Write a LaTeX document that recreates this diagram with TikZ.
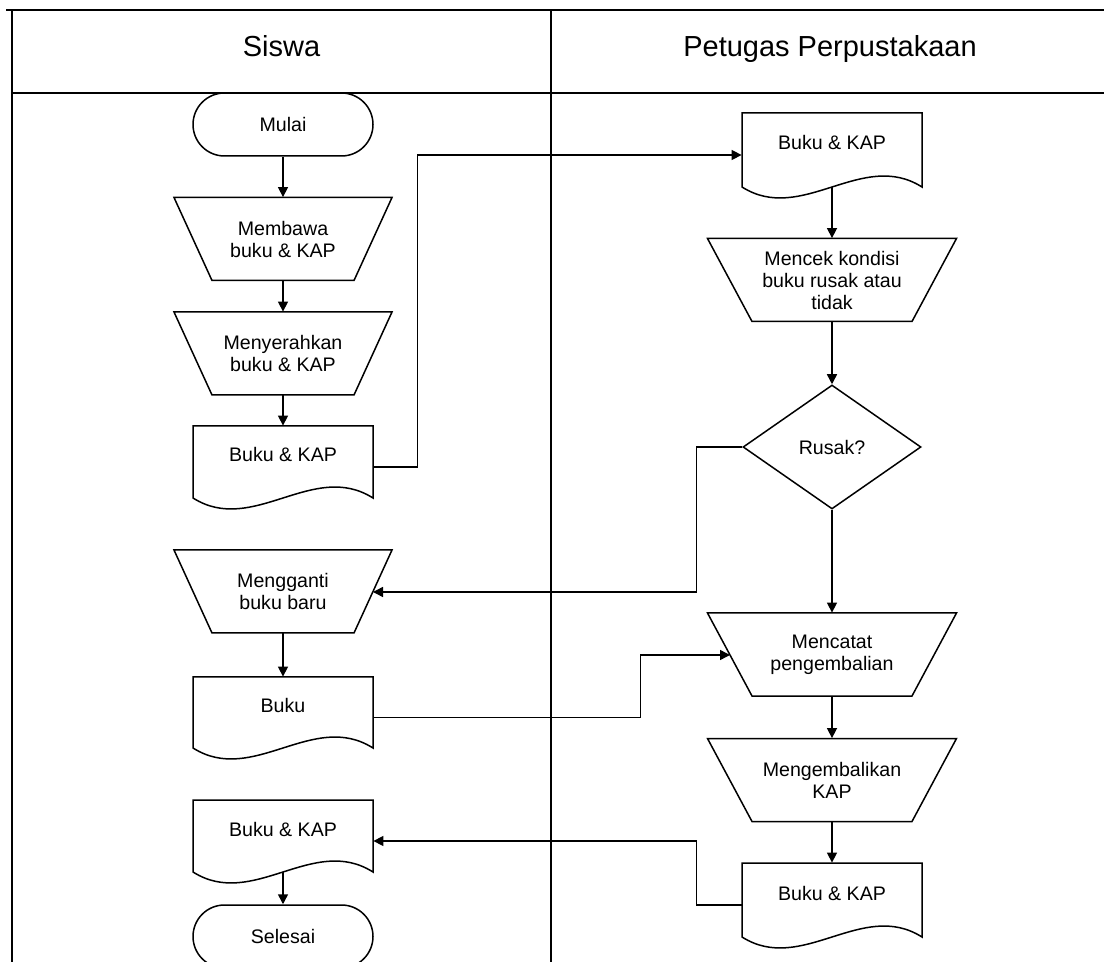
\documentclass[tikz,border=0pt]{standalone}
\usepackage{fontspec}
\setmainfont{Liberation Sans}
\usetikzlibrary{arrows.meta,shapes.geometric,calc}
\tikzset{
 shp/.style={draw=black, line width=0.75pt},
 lbl/.style={inner sep=0pt, align=center, font=\fontsize{9.8}{11}\selectfont},
 term/.style={shp, lbl, rounded corners=15.75pt, minimum width=90pt, minimum height=31.5pt},
 frame/.style={draw=black, line width=1.1pt},
 arr/.style={draw=black, line width=0.75pt, -{Triangle[length=5pt,width=5pt]}},
 head/.style={font=\fontsize{14.5}{17}\selectfont, anchor=base, inner sep=0pt},
}
\newcommand{\manopshape}[6]{%
 \draw[shp] (#2-#4,#3-41.5) -- (#2+#4,#3-41.5) -- (#2+#5,#3+41.5) -- (#2-#5,#3+41.5) -- cycle;
 \node[lbl, minimum width=#4pt, minimum height=41.5pt] (#1) at (#2,#3) {#6};}
\newcommand{\docshape}[6]{%
 \draw[shp] (#2,#4) -- (#3,#4) -- (#3,#5) .. controls ({#2+2*(#3-#2)/3},{#5-38}) and ({#2+(#3-#2)/3},{#5+38}) .. (#2,#5) -- cycle;
 \node[lbl, text height=7pt, text depth=7pt, minimum width={(#3-#2)*0.5pt}, minimum height={(#5-#4)*0.5pt}] (#1) at ({(#2+#3)/2},{(#4+#5)/2}) {#6};}
\begin{document}
\begin{tikzpicture}[x=0.5pt,y=-0.5pt]
\useasboundingbox (0,0) rectangle (1104,962);
\fill[white] (0,0) rectangle (1104,962);
% frame
\draw[frame] (6,10) -- (1104,10);
\draw[frame] (12,10) -- (12,962);
\draw[frame] (12,93) -- (1104,93);
\draw[frame] (551,10) -- (551,962);
\node[head] (siswa) at (281.5,57) {Siswa};
\node[head] (petugas) at (830,57) {Petugas Perpustakaan};
% left lane
\node[term] (mulai) at (283,124.5) {Mulai};
\manopshape{membawa}{283}{239}{109}{71}{Membawa\\buku \& KAP}
\manopshape{menyerahkan}{283}{353.5}{109}{71}{Menyerahkan\\buku \& KAP}
\docshape{docA}{193}{373}{426}{498}{Buku \& KAP}
\manopshape{mengganti}{283}{591.5}{109}{71}{Mengganti\\buku baru}
\docshape{docB}{193}{373}{677}{748}{Buku}
\docshape{docC}{193}{373}{800}{872}{Buku \& KAP}
\node[term] (selesai) at (283,936.5) {Selesai};
% right lane
\docshape{docD}{742}{922}{113}{187}{Buku \& KAP}
\manopshape{mencek}{832}{280}{124.5}{80}{Mencek kondisi\\buku rusak atau\\tidak}
\node[shp, lbl, diamond, minimum width=89pt, minimum height=62pt] (rusak) at (832,447) {Rusak?};
\manopshape{mencatat}{832}{654.5}{124.5}{80}{Mencatat\\pengembalian}
\manopshape{mengembalikan}{832}{780}{124.5}{80}{Mengembalikan\\KAP}
\docshape{docE}{742}{922}{863}{937}{Buku \& KAP}
% connectors
\coordinate (mgin) at (373,592);
\coordinate (mcin) at (730,655);
\draw[arr] (mulai.south) -- (membawa.north);
\draw[arr] (membawa.south) -- (menyerahkan.north);
\draw[arr] (menyerahkan.south) -- (docA.north);
\draw[arr] ([yshift=-2.5pt]docA.east) -- ++(44,0) |- ([yshift=-2.5pt]docD.west);
\draw[arr] (docD.south) -- (mencek.north);
\draw[arr] (mencek.south) -- (rusak.north);
\draw[arr] (rusak.west) -- ++(-46,0) |- (mgin);
\draw[arr] (rusak.south) -- (mencatat.north);
\draw[arr] (mengganti.south) -- (docB.north);
\draw[arr] ([yshift=-2.5pt]docB.east) -- ++(267,0) |- (mcin);
\draw[arr] (mencatat.south) -- (mengembalikan.north);
\draw[arr] (mengembalikan.south) -- (docE.north);
\draw[arr] ([yshift=-2.5pt]docE.west) -- ++(-45,0) |- ([yshift=-2.5pt]docC.east);
\draw[arr] (docC.south) -- (selesai.north);
\end{tikzpicture}
\end{document}
